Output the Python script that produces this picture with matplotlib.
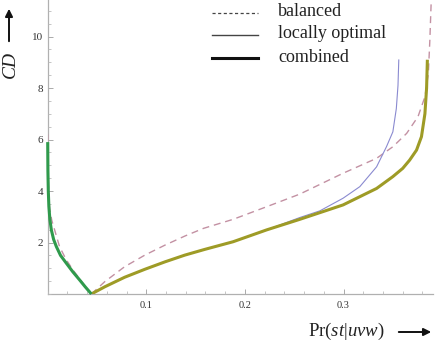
import matplotlib
matplotlib.use("Agg")
import matplotlib.pyplot as plt
from matplotlib.lines import Line2D
from matplotlib.patches import FancyArrowPatch
from matplotlib.ticker import MultipleLocator, FixedLocator

plt.rcParams['mathtext.fontset'] = 'custom'
plt.rcParams['mathtext.rm'] = 'Liberation Serif'
plt.rcParams['mathtext.it'] = 'Liberation Serif:italic'

# ---- data ----
combined_left_x = [0.0, 0.0002, 0.0006, 0.0012, 0.0022, 0.0037, 0.006, 0.0088, 0.013,
                   0.019, 0.0255, 0.0325, 0.038, 0.0443]
combined_left_y = [5.9, 4.8, 4.0, 3.4, 2.9, 2.49, 2.12, 1.84, 1.5,
                   1.19, 0.86, 0.54, 0.28, 0.0]

combined_right_x = [0.0443, 0.0579, 0.078, 0.0985, 0.119, 0.139, 0.159, 0.188, 0.222,
                    0.2556, 0.2995, 0.3335, 0.350, 0.360, 0.367, 0.374, 0.379, 0.3825,
                    0.3842, 0.385]
combined_right_y = [0.0, 0.28, 0.65, 0.96, 1.25, 1.51, 1.73, 2.03, 2.49,
                    2.90, 3.46, 4.10, 4.56, 4.88, 5.20, 5.59, 6.11, 7.0,
                    8.0, 9.1]

local_x = [0.0443, 0.0579, 0.078, 0.0985, 0.119, 0.139, 0.159, 0.188, 0.222, 0.2556,
           0.276, 0.2995, 0.3165, 0.3335, 0.3435, 0.350, 0.3535, 0.3552, 0.356]
local_y = [0.0, 0.28, 0.65, 0.96, 1.25, 1.51, 1.73, 2.03, 2.49, 2.97,
           3.23, 3.72, 4.17, 4.94, 5.72, 6.3, 7.2, 8.1, 9.09]

balanced_left_x = [0.0, 0.0003, 0.0008, 0.002, 0.0042, 0.007, 0.012, 0.0185, 0.0257,
                   0.0358, 0.0443]
balanced_left_y = [6.2, 5.0, 4.2, 3.3, 2.85, 2.49, 1.84, 1.35, 0.93,
                   0.41, 0.0]

balanced_right_x = [0.0443, 0.0579, 0.078, 0.0985, 0.119, 0.139, 0.158, 0.188, 0.222,
                    0.2556, 0.2995, 0.3335, 0.350, 0.364, 0.3755, 0.3825, 0.386, 0.3875, 0.389]
balanced_right_y = [0.0, 0.48, 1.06, 1.51, 1.90, 2.25, 2.55, 2.90, 3.39,
                    3.88, 4.69, 5.27, 5.72, 6.24, 6.89, 7.66, 8.57, 9.86, 11.5]

x_ticks = [0.1, 0.2, 0.3]
x_ticklabels = ["0.1", "0.2", "0.3"]
y_ticks = [2, 4, 6, 8, 10]
y_ticklabels = ["2", "4", "6", "8", "10"]
legend_labels = ["balanced", "locally optimal", "combined"]

# ---- figure ----
W, H = 436, 343
fig = plt.figure(figsize=(W / 100, H / 100), dpi=100)
ax = fig.add_axes([47.7 / W, (H - 294) / H, (433 - 47.7) / W, 294 / H])
ax.set_xlim(0, 0.3907)
ax.set_ylim(0, 11.42)

c_green = "#2f9a4c"
c_olive = "#9e9b26"
c_blue = "#8a8ad0"
c_pink = "#c391a3"

ax.plot(balanced_left_x, balanced_left_y, color=c_pink, lw=1.0, dashes=(5, 3.5), zorder=3)
ax.plot(balanced_right_x, balanced_right_y, color=c_pink, lw=1.0, dashes=(5, 3.5), zorder=3)
ax.plot(local_x, local_y, color=c_blue, lw=0.8, zorder=4)
ax.plot(combined_right_x, combined_right_y, color=c_olive, lw=2.2,
        solid_capstyle='butt', solid_joinstyle='round', zorder=5)
ax.plot(combined_left_x, combined_left_y, color=c_green, lw=2.2, clip_on=False,
        solid_capstyle='butt', solid_joinstyle='round', zorder=6)

for s in ['top', 'right']:
    ax.spines[s].set_visible(False)
for s in ['left', 'bottom']:
    ax.spines[s].set_color('#b0b0b0')
    ax.spines[s].set_linewidth(0.9)
    ax.spines[s].set_zorder(1)

ax.xaxis.set_major_locator(FixedLocator(x_ticks))
ax.set_xticklabels(x_ticklabels, family='Liberation Serif', fontsize=7.5, color='#333333')
ax.yaxis.set_major_locator(FixedLocator(y_ticks))
ax.set_yticklabels(y_ticklabels, family='Liberation Serif', fontsize=8, color='#333333')
ax.xaxis.set_minor_locator(MultipleLocator(0.02))
ax.yaxis.set_minor_locator(MultipleLocator(0.5))
ax.tick_params(which='major', direction='in', length=3.5, width=0.7, color='#aaaaaa')
ax.tick_params(which='minor', direction='in', length=2, width=0.6, color='#bbbbbb')
ax.tick_params(axis='x', which='major', pad=5)
ax.tick_params(axis='y', which='major', pad=3)
ax.set_facecolor('white')

def fx(px):
    return px / W

def fy(py):
    return 1 - py / H

# legend (manual)
ly = [13, 35, 58]
fig.add_artist(Line2D([fx(212), fx(258)], [fy(ly[0])] * 2, color='#444444', lw=0.9,
                      dashes=(2.5, 2)))
fig.add_artist(Line2D([fx(212), fx(258)], [fy(ly[1])] * 2, color='#444444', lw=1.0))
fig.add_artist(Line2D([fx(212), fx(258)], [fy(ly[2])] * 2, color='#111111', lw=2.2))
for lab, yy in zip(legend_labels, ly):
    fig.text(fx(278), fy(yy - 1), lab, family='Liberation Serif', fontsize=13,
             va='center', ha='left', color='#222222')

# y label with arrow
fig.text(fx(10), fy(64), "CD", family='Liberation Serif', style='italic', fontsize=14,
         rotation=90, va='center', ha='center', color='#222222')
fig.add_artist(FancyArrowPatch((fx(9), fy(44)), (fx(9), fy(6)),
               transform=fig.transFigure, arrowstyle='-|>', mutation_scale=11,
               color='#111111', lw=1.4))

# x label with arrow
fig.text(fx(346), fy(331), r"$\mathrm{Pr}(st|uvw)$", fontsize=13.5,
         va='center', ha='center', color='#222222')
fig.add_artist(FancyArrowPatch((fx(396), fy(332)), (fx(434), fy(332)),
               transform=fig.transFigure, arrowstyle='-|>', mutation_scale=11,
               color='#111111', lw=1.4))

fig.savefig("out.png", dpi=100)
